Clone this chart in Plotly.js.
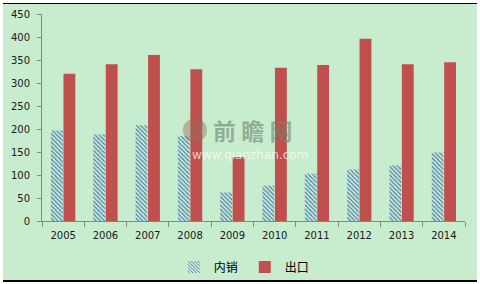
<!DOCTYPE html>
<html>
<head>
<meta charset="utf-8">
<script src="https://cdn.plot.ly/plotly-3.0.1.min.js"></script>
<style>
  html, body { margin: 0; padding: 0; background: #ffffff; }
  #wrap { position: relative; width: 480px; height: 284px; overflow: hidden; background: #ffffff; }
  #bg { position: absolute; left: 3px; top: 3px; width: 474px; height: 276px;
        background: #c8ecce; border-top: 1px solid #000; border-bottom: 2px solid #000; }
  #chart { position: absolute; left: 0; top: 0; width: 480px; height: 284px; }
</style>
</head>
<body>
<div id="wrap">
  <div id="bg"></div>
  <div id="chart"></div>
</div>
<script>
const years = ['2005','2006','2007','2008','2009','2010','2011','2012','2013','2014'];
const domesticSales = [197, 188, 208, 185, 62, 77, 103, 112, 121, 149];
const exportSales = [320, 341, 361, 330, 139, 333, 339, 396, 341, 345];
const yTicks = [0, 50, 100, 150, 200, 250, 300, 350, 400, 450];
const seriesNames = ['内销', '出口'];

const tickFont = { family: 'DejaVu Sans, Verdana, sans-serif', size: 10, color: '#1a1a1a' };

const traces = [
  {
    type: 'bar', name: seriesNames[0], x: years, y: domesticSales,
    marker: {
      color: 'rgba(0,0,0,0)',
      line: { width: 0 },
      pattern: { shape: '\\', fgcolor: '#3f6fb5', bgcolor: 'rgba(0,0,0,0)', size: 3, solidity: 0.35 }
    },
    hoverinfo: 'skip'
  },
  {
    type: 'bar', name: seriesNames[1], x: years, y: exportSales,
    marker: { color: '#c0504d', line: { width: 0 } },
    hoverinfo: 'skip'
  }
];

const layout = {
  width: 480, height: 284,
  margin: { l: 42, r: 15, t: 14, b: 63, autoexpand: false },
  paper_bgcolor: 'rgba(0,0,0,0)',
  plot_bgcolor: 'rgba(0,0,0,0)',
  barmode: 'group',
  bargap: 0.41,
  bargroupgap: 0.05,
  showlegend: true,
  legend: {
    orientation: 'h', xref: 'container', x: 0.51, xanchor: 'center',
    yref: 'container', y: 0.06, yanchor: 'middle',
    font: { family: 'Noto Sans CJK SC, sans-serif', size: 12, color: '#000' },
    itemwidth: 30, entrywidth: 26, bgcolor: 'rgba(0,0,0,0)'
  },
  xaxis: {
    type: 'category', automargin: false,
    showline: true, linecolor: '#868686', linewidth: 1,
    ticks: 'outside', tickson: 'boundaries', ticklen: 5, tickcolor: '#868686',
    ticklabelstandoff: 5,
    showgrid: false, zeroline: false,
    tickfont: tickFont,
    fixedrange: true
  },
  yaxis: {
    range: [0, 450], automargin: false,
    tickvals: yTicks,
    showline: true, linecolor: '#868686', linewidth: 1,
    ticks: 'outside', ticklen: 4, tickcolor: '#868686',
    ticklabelstandoff: 5,
    showgrid: false, zeroline: false,
    tickfont: tickFont,
    fixedrange: true
  },
  annotations: [
    {
      xref: 'paper', yref: 'paper', x: 0.40, y: 0.44, xanchor: 'left', yanchor: 'middle',
      text: '<b>前 瞻 网</b>', showarrow: false,
      font: { family: 'Noto Sans CJK SC, sans-serif', size: 23, color: 'rgba(110,130,110,0.6)' }
    },
    {
      xref: 'paper', yref: 'paper', x: 0.35, y: 0.32, xanchor: 'left', yanchor: 'middle',
      text: 'www.qianzhan.com', showarrow: false,
      font: { family: 'DejaVu Sans, sans-serif', size: 12, color: 'rgba(255,255,255,0.7)' }
    }
  ],
  shapes: [
    {
      type: 'circle', xref: 'paper', yref: 'paper',
      x0: 0.333, x1: 0.39, y0: 0.38, y1: 0.496,
      fillcolor: 'rgba(150,110,90,0.45)', line: { width: 0 }
    }
  ]
};

Plotly.newPlot('chart', traces, layout, { staticPlot: true, displayModeBar: false });
</script>
</body>
</html>
